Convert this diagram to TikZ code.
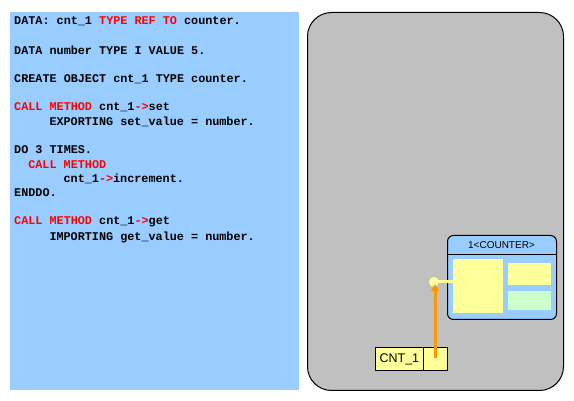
\documentclass[tikz,border=0pt]{standalone}
\usepackage{fontspec}
\usetikzlibrary{arrows.meta}
\setmainfont{Liberation Sans}
\newfontfamily\codefont{Liberation Mono}
\definecolor{panelblue}{HTML}{99CCFF}
\definecolor{panelgray}{HTML}{C0C0C0}
\definecolor{ylw}{HTML}{FFFF99}
\definecolor{grn}{HTML}{CCFFCC}
\definecolor{kw}{HTML}{FF0000}
\definecolor{arr}{HTML}{FF9900}
\newcommand{\kwd}[1]{\textcolor{kw}{#1}}
\begin{document}
\begin{tikzpicture}[x=1pt,y=-1pt,
  codeline/.style={anchor=west,inner sep=0pt,font=\codefont\bfseries\fontsize{11.8}{12}\selectfont},
  cell/.style={draw=black,fill=ylw,line width=0.8pt,inner sep=0pt},
]
\useasboundingbox (0,0) rectangle (574,401);
% left code panel
\node[fill=panelblue,draw=none,minimum width=289pt,minimum height=378pt,inner sep=0pt,anchor=north west] (code) at (10,12) {};
\node[codeline] (l1) at (14,21) {DATA: cnt\_1 \kwd{TYPE REF TO} counter.};
\node[codeline] (l2) at (14,50) {DATA number TYPE I VALUE 5.};
\node[codeline] (l3) at (14,79) {CREATE OBJECT cnt\_1 TYPE counter.};
\node[codeline] (l4) at (14,107) {\kwd{CALL METHOD} cnt\_1\kwd{->}set};
\node[codeline] (l5) at (49.3,122) {EXPORTING set\_value = number.};
\node[codeline] (l6) at (14,150) {DO 3 TIMES.};
\node[codeline] (l7) at (28.1,165) {\kwd{CALL METHOD}};
\node[codeline] (l8) at (63.4,179) {cnt\_1\kwd{->}increment.};
\node[codeline] (l9) at (14,193) {ENDDO.};
\node[codeline] (l10) at (14,222) {\kwd{CALL METHOD} cnt\_1\kwd{->}get};
\node[codeline] (l11) at (49.3,237) {IMPORTING get\_value = number.};
% right memory panel
\node[fill=panelgray,draw=black,line width=1pt,rounded corners=24pt,minimum width=256pt,minimum height=378pt,inner sep=0pt,anchor=north west] (mem) at (307,12) {};
% object
\node[fill=panelblue,draw=black,line width=1pt,rounded corners=6pt,minimum width=109pt,minimum height=84pt,inner sep=0pt,anchor=north west] (obj) at (447,235) {};
\draw[line width=1pt] (447,255) -- (556,255);
\node[inner sep=0pt,font=\fontsize{10}{12}\selectfont] (title) at (501.5,245) {1<COUNTER>};
\node[fill=ylw,inner sep=0pt,minimum width=50pt,minimum height=54pt,anchor=north west] (attr) at (453,259) {};
\node[fill=ylw,inner sep=0pt,minimum width=43pt,minimum height=22pt,anchor=north west] (m1) at (508,263) {};
\node[fill=grn,inner sep=0pt,minimum width=43pt,minimum height=19pt,anchor=north west] (m2) at (508,291) {};
% reference variable
\node[cell,minimum width=48pt,minimum height=23pt,anchor=north west,font=\fontsize{12.5}{14}\selectfont] (cnt) at (375,347) {CNT\_1};
\node[cell,minimum width=24pt,minimum height=23pt,anchor=north west] (ptr) at (423,347) {};
% pointer target
\node[circle,fill=ylw,inner sep=0pt,minimum size=10pt] (dot) at (434,282) {};
\draw[ylw,line width=3pt] (dot.center) -- (attr.west |- dot.center);
\coordinate (src) at (435,358);
\coordinate (tip) at (435,284);
\draw[arr,line width=3pt,-{Triangle[length=7pt,width=8pt]}] (src) -- (tip);
\end{tikzpicture}
\end{document}
